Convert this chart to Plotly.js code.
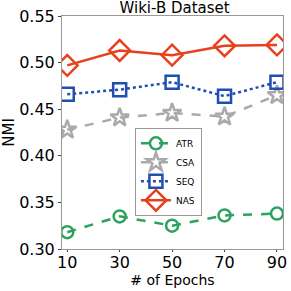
<!DOCTYPE html>
<html><head><script src="https://cdn.plot.ly/plotly-3.0.1.min.js"></script>
<style>body{margin:0}</style></head><body><div id="c" style="width:291px;height:291px"></div>
<script>
const epochs = [10, 30, 50, 70, 90];
const atr = [0.318, 0.335, 0.325, 0.336, 0.338];
const csa = [0.428, 0.441, 0.446, 0.442, 0.465];
const seq = [0.466, 0.471, 0.479, 0.464, 0.479];
const nas = [0.497, 0.513, 0.508, 0.518, 0.519];
const names = ['ATR', 'CSA', 'SEQ', 'NAS'];
const yTicks = [0.30, 0.35, 0.40, 0.45, 0.50, 0.55];
const yTickText = ['0.30', '0.35', '0.40', '0.45', '0.50', '0.55'];

const font = 'DejaVu Sans, sans-serif';
function tr(y, name, color, dash, symbol, size) {
  return {x: epochs, y: y, name: name, type: 'scatter', mode: 'lines+markers',
    line: {color: color, width: 2.5, dash: dash},
    marker: {symbol: symbol, size: size, color: color, line: {color: color, width: 2.5}}};
}
const data = [
  tr(atr, names[0], '#2ca25f', 'dash', 'circle-open', 12),
  tr(csa, names[1], '#aaaaaa', 'dash', 'star-open', 14),
  tr(seq, names[2], '#1f4fb0', 'dot', 'square-open', 13),
  tr(nas, names[3], '#e8401c', 'solid', 'diamond-open', 16)
];
const layout = {
  width: 291, height: 291,
  margin: {l: 62, r: 8, t: 16, b: 42},
  paper_bgcolor: 'white', plot_bgcolor: 'white',
  font: {family: font, color: '#000'},
  title: {text: 'Wiki-B Dataset', font: {size: 15, family: font}, x: 0.6, xanchor: 'center', yref: 'container', y: 0.99, yanchor: 'top'},
  xaxis: {range: [8, 92.3], tickvals: epochs, ticktext: epochs.map(String), showgrid: false, zeroline: false,
    showline: true, linecolor: '#999', mirror: true, ticks: 'outside', ticklen: 2, tickcolor: '#444',
    ticklabelstandoff: -3,
    tickfont: {size: 16, family: font}, title: {text: '# of Epochs', font: {size: 14, family: font}, standoff: 0}},
  yaxis: {range: [0.30, 0.55], tickvals: yTicks, ticktext: yTickText, showgrid: false, zeroline: false,
    showline: true, linecolor: '#999', mirror: true, ticks: 'outside', ticklen: 3, tickcolor: '#444',
    tickfont: {size: 16, family: font}, title: {text: 'NMI', font: {size: 15, family: font}, standoff: 4}},
  legend: {x: 0.33, y: 0.52, xanchor: 'left', yanchor: 'top', bgcolor: 'white', bordercolor: '#999', borderwidth: 1,
    font: {size: 9, family: font}, tracegroupgap: 0, itemwidth: 30},
  showlegend: true
};
Plotly.newPlot('c', data, layout, {displayModeBar: false, staticPlot: true});
</script></body></html>
